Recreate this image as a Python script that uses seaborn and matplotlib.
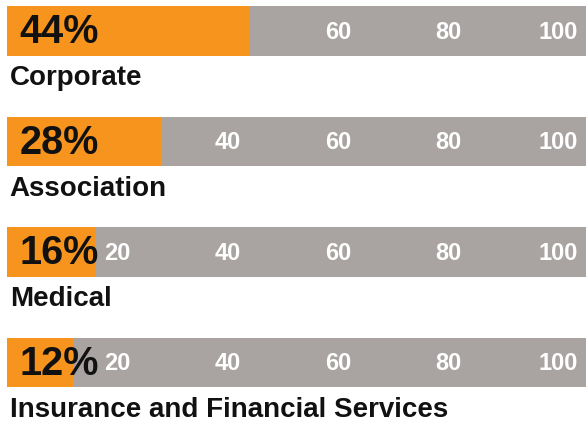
import numpy as np
import pandas as pd
import seaborn as sns
import matplotlib.pyplot as plt

# data
categories = ["Corporate", "Association", "Medical", "Insurance and Financial Services"]
shares = [44, 28, 16, 12]
scale_ticks = [20, 40, 60, 80, 100]
scale_max = 105

orange = "#f7941d"
grey = "#a9a3a1"

sns.set_theme(style="white")
plt.rcParams['font.family'] = ['Liberation Sans', 'DejaVu Sans']

df = pd.DataFrame({"category": categories, "share": shares, "full": [scale_max] * len(categories)})

fig = plt.figure(figsize=(5.86, 4.23), dpi=100)
ax = fig.add_axes([7 / 586, 0, 1 - 7 / 586, 1])

bar_h = 0.45
sns.barplot(data=df, x="full", y="category", color=grey, width=bar_h,
            saturation=1, linewidth=0, ax=ax)
sns.barplot(data=df, x="share", y="category", color=orange, width=bar_h,
            saturation=1, linewidth=0, ax=ax)

ax.set_xlim(0, scale_max)
# 110.5 px per category, first bar centred 31 px from the top
ax.set_ylim(3 + (423 - 362.5) / 110.5, -31 / 110.5)
ax.axis("off")

for i, (cat, v) in enumerate(zip(categories, shares)):
    # scale numbers printed inside the grey part
    for t in scale_ticks:
        if t > v + 2:
            ax.text(t, i + 0.01, str(t), ha="center", va="center",
                    color="white", fontsize=17, fontweight="bold")
    ax.text(2.3, i + 0.01, f"{v}%", ha="left", va="center",
            color="#111111", fontsize=28.5, fontweight="bold")
    ax.text(0.5, i + 0.49, cat, ha="left", va="baseline",
            color="#111111", fontsize=20, fontweight="bold")

fig.savefig("out.png", dpi=100)
